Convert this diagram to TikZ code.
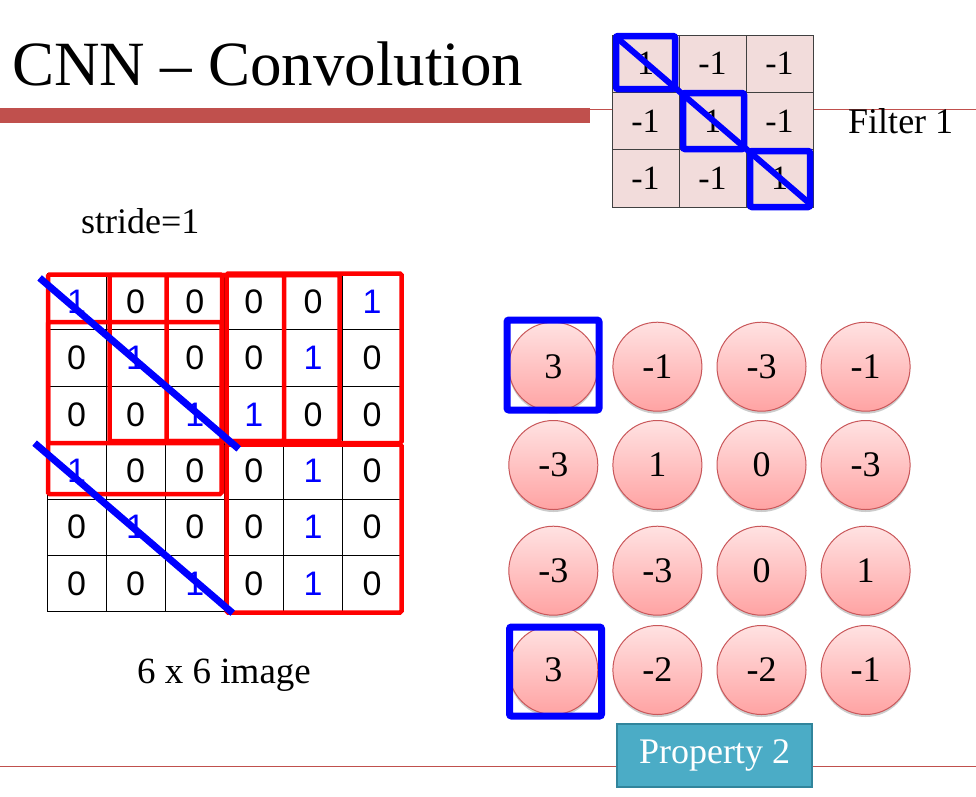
\documentclass[tikz,border=0pt]{standalone}
\usepackage{fontspec}
\setmainfont{Liberation Serif}
\newfontfamily\arialf{Liberation Sans}
\usetikzlibrary{shadows}
\definecolor{barred}{HTML}{C0504D}
\definecolor{filterfill}{HTML}{F2DCDB}
\definecolor{propfill}{HTML}{4BACC6}
\definecolor{propdraw}{HTML}{31859C}
\definecolor{circtop}{HTML}{FFE2E2}
\definecolor{circbot}{HTML}{FFA3A3}
\definecolor{circdraw}{HTML}{C9575A}
\definecolor{pureblue}{RGB}{0,0,255}
\definecolor{purered}{RGB}{255,0,0}
\begin{document}
\begin{tikzpicture}[x=1pt,y=-1pt,
  fcell/.style={draw=black!75, fill=filterfill, minimum width=67pt, minimum height=57.3pt, inner sep=0pt, line width=0.8pt, font=\fontsize{34}{36}\selectfont},
  gcell/.style={draw=black, minimum width=59.1pt, minimum height=56.4pt, inner sep=0pt, line width=0.8pt, font=\arialf\fontsize{34}{36}\selectfont},
  circ/.style={circle, minimum size=89pt, inner sep=0pt, draw=circdraw, line width=1pt, top color=circtop, bottom color=circbot, font=\fontsize{36}{38}\selectfont, drop shadow={shadow xshift=0pt, shadow yshift=-2.5pt, opacity=0.2, fill=black}},
  bluebox/.style={draw=pureblue, line width=6.5pt, rounded corners=2pt},
  redwin/.style={draw=purered, line width=4.5pt, rounded corners=1.5pt},
  blueline/.style={draw=pureblue, line width=7pt},
  label/.style={inner sep=0pt, font=\fontsize{36}{40}\selectfont}
]
\useasboundingbox (0,0) rectangle (976,796);
% header bar and rules
\fill[barred] (0,108) rectangle (590,123);
\draw[barred, line width=1pt] (590,109) -- (976,109);
\draw[barred, line width=1pt] (0,766) -- (976,766);
% title
\node[anchor=base west, inner sep=0pt, font=\fontsize{63}{70}\selectfont] (title) at (12,85) {CNN – Convolution};
% filter
\foreach \row [count=\i from 0] in {{1,-1,-1},{-1,1,-1},{-1,-1,1}}
  \foreach \v [count=\j from 0] in \row
    \node[fcell] (f\i\j) at ({645.5+67*\j},{63.65+57.3*\i}) {\v};
\draw[bluebox] (616,36) rectangle (675,89);
\draw[bluebox] (683,93) rectangle (744,149);
\draw[bluebox] (750,151) rectangle (810,207);
\draw[blueline, line width=6pt] ([shift={(4,2)}]f00.north west) -- ([shift={(-4,-4)}]f22.south east);
\node[label, anchor=base west] (filt) at (848,133) {Filter 1};
\node[label, anchor=base west] (stride) at (81,233) {stride=1};
\node[label, anchor=base west, font=\fontsize{37}{40}\selectfont] (imglabel) at (137,683) {6 x 6 image};
% 6x6 image
\foreach \row [count=\i from 0] in {{1,0,0,0,0,1},{0,1,0,0,1,0},{0,0,1,1,0,0},{1,0,0,0,1,0},{0,1,0,0,1,0},{0,0,1,0,1,0}}
  \foreach \v [count=\j from 0] in \row {
    \ifnum\v=1 \def\tc{pureblue}\else\def\tc{black}\fi
    \node[gcell, text=\tc] (g\i\j) at ({76.55+59.1*\j},{301.5+56.4*\i}) {\v};
  }
% stride windows
\draw[redwin] (48,274.5) rectangle (222,443);
\draw[redwin] (109.5,275) rectangle (284,441);
\draw[redwin] (166.5,275) rectangle (339.5,441);
\draw[redwin] (226.5,273.5) rectangle (401.5,443);
\draw[redwin] (48,322) rectangle (221.5,494);
\draw[redwin] (226.5,444.5) rectangle (401.5,612.5);
% diagonals
\draw[blueline] ([shift={(-7,5)}]g00.north west) -- ([shift={(14,6)}]g22.south east);
\draw[blueline] ([shift={(-12,1)}]g30.north west) -- ([shift={(8,1)}]g52.south east);
% feature map
\foreach \row [count=\i from 0] in {{3,-1,-3,-1},{-3,1,0,-3},{-3,-3,0,1},{3,-2,-2,-1}}
  \foreach \v [count=\j from 0] in \row {
    \pgfmathsetmacro\yy{{366.7,465,570.7,670}[\i]}
    \node[circ] (c\i\j) at ({553.3+104.1*\j},\yy) {\v};
  }
\draw[bluebox, line width=7pt] (507,320) rectangle (599,410);
\draw[bluebox, line width=7pt] (509.5,627) rectangle (601.5,716);
% property label
\node[draw=propdraw, fill=propfill, line width=2pt, minimum width=195pt, minimum height=63pt, inner sep=0pt, text=white, font=\fontsize{36}{40}\selectfont] (prop) at (714.5,755.5) {Property 2};
\end{tikzpicture}
\end{document}
